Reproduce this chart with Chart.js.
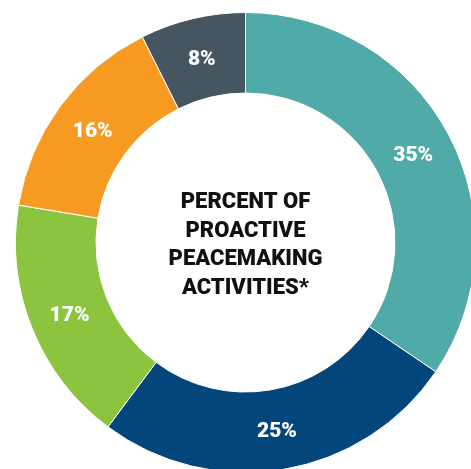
<!DOCTYPE html>
<html>
<head>
<meta charset="utf-8">
<script src="https://cdn.jsdelivr.net/npm/chart.js@4.4.1/dist/chart.umd.min.js"></script>
<style>
    html, body { margin: 0; padding: 0; background: #fff; overflow: hidden; width: 471px; height: 469px; }
    #wrap { position: absolute; left: 14.5px; top: 12px; width: 461px; height: 461px; }
</style>
</head>
<body>
<div id="wrap"><canvas id="donutChart"></canvas></div>
<script>
const categories = ['Slice A', 'Slice B', 'Slice C', 'Slice D', 'Slice E'];
// shares as measured from the arc angles; printed labels are the rounded figures
const shares = [34.5, 25.7, 17.4, 15.0, 7.4];
const shareLabels = ['35%', '25%', '17%', '16%', '8%'];
const sliceColors = ['#50aaa7', '#03467b', '#8cc43f', '#f79a21', '#455661'];
const centerLines = ['PERCENT OF', 'PROACTIVE', 'PEACEMAKING', 'ACTIVITIES*'];

const FONT = 'Roboto, "DejaVu Sans", sans-serif';

const labelPlugin = {
    id: 'sliceLabels',
    afterDatasetsDraw(chart) {
        const ctx = chart.ctx;
        const meta = chart.getDatasetMeta(0);
        ctx.save();
        ctx.fillStyle = '#ffffff';
        ctx.font = '900 21px ' + FONT;
        ctx.textAlign = 'center';
        ctx.textBaseline = 'middle';
        meta.data.forEach((arc, i) => {
            const p = arc.tooltipPosition();
            ctx.fillText(shareLabels[i], p.x, p.y + 2);
        });

        // centre title
        const cx = (chart.chartArea.left + chart.chartArea.right) / 2;
        const cy = (chart.chartArea.top + chart.chartArea.bottom) / 2;
        ctx.fillStyle = '#111111';
        ctx.font = '900 22px ' + FONT;
        const lineH = 28.5;
        const startY = cy + 3 - lineH * (centerLines.length - 1) / 2;
        centerLines.forEach((line, i) => {
            ctx.fillText(line, cx, startY + i * lineH);
        });
        ctx.restore();
    }
};

new Chart(document.getElementById('donutChart').getContext('2d'), {
    type: 'doughnut',
    data: {
        labels: categories,
        datasets: [{
            data: shares,
            backgroundColor: sliceColors,
            borderColor: '#ffffff',
            borderWidth: 1
        }]
    },
    options: {
        responsive: true,
        maintainAspectRatio: false,
        animation: false,
        cutout: '65%',
        rotation: 0,
        layout: { padding: 0 },
        plugins: {
            legend: { display: false },
            tooltip: { enabled: false }
        }
    },
    plugins: [labelPlugin]
});
</script>
</body>
</html>
